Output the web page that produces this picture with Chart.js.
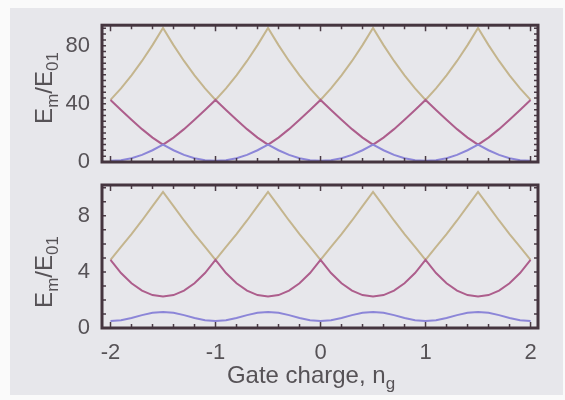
<!DOCTYPE html>
<html><head><meta charset="utf-8">
<script src="https://cdn.jsdelivr.net/npm/chart.js@4"></script>
<style>
html,body{margin:0;padding:0;background:#fafafa;width:565px;height:400px;overflow:hidden;}
#panel{position:absolute;left:10px;top:8px;width:553px;height:387px;background:#e7e7eb;}
canvas{position:absolute;left:0;top:0;}
</style></head><body>
<div id="panel"></div>
<canvas id="topChart" width="565" height="400"></canvas>
<canvas id="botChart" width="565" height="400"></canvas>
<script>
// Gate charge n_g (x values)
const gateCharge = [-2,-1.9,-1.8,-1.7,-1.6,-1.5,-1.4,-1.3,-1.2,-1.1,-1,-0.9,-0.8,-0.7,-0.6,-0.5,-0.4,-0.3,-0.2,-0.1,0,0.1,0.2,0.3,0.4,0.5,0.6,0.7,0.8,0.9,1,1.1,1.2,1.3,1.4,1.5,1.6,1.7,1.8,1.9,2];

// Top panel (charge regime) levels Em/E01
const topLevel0 = [0.8,1.2,2.6,4.9,8.1,11.9,8.1,4.9,2.6,1.2, 0.8,1.2,2.6,4.9,8.1,11.9,8.1,4.9,2.6,1.2, 0.8,1.2,2.6,4.9,8.1,11.9,8.1,4.9,2.6,1.2, 0.8,1.2,2.6,4.9,8.1,11.9,8.1,4.9,2.6,1.2, 0.8];
const topLevel1 = [42.7,35.8,29.1,22.6,16.8,11.9,16.8,22.6,29.1,35.8, 42.7,35.8,29.1,22.6,16.8,11.9,16.8,22.6,29.1,35.8, 42.7,35.8,29.1,22.6,16.8,11.9,16.8,22.6,29.1,35.8, 42.7,35.8,29.1,22.6,16.8,11.9,16.8,22.6,29.1,35.8, 42.7];
const topLevel2 = [42.7,50.6,59.6,69.5,80.4,92.2,80.4,69.5,59.6,50.6, 42.7,50.6,59.6,69.5,80.4,92.2,80.4,69.5,59.6,50.6, 42.7,50.6,59.6,69.5,80.4,92.2,80.4,69.5,59.6,50.6, 42.7,50.6,59.6,69.5,80.4,92.2,80.4,69.5,59.6,50.6, 42.7];

// Bottom panel levels Em/E01
const botLevel0 = [0.50,0.56,0.71,0.92,1.08,1.14,1.08,0.92,0.71,0.56, 0.50,0.56,0.71,0.92,1.08,1.14,1.08,0.92,0.71,0.56, 0.50,0.56,0.71,0.92,1.08,1.14,1.08,0.92,0.71,0.56, 0.50,0.56,0.71,0.92,1.08,1.14,1.08,0.92,0.71,0.56, 0.50];
const botLevel1 = [4.86,3.92,3.19,2.67,2.35,2.25,2.35,2.67,3.19,3.92, 4.86,3.92,3.19,2.67,2.35,2.25,2.35,2.67,3.19,3.92, 4.86,3.92,3.19,2.67,2.35,2.25,2.35,2.67,3.19,3.92, 4.86,3.92,3.19,2.67,2.35,2.25,2.35,2.67,3.19,3.92, 4.86];
const botLevel2 = [4.86,5.78,6.70,7.67,8.69,9.71,8.69,7.67,6.70,5.78, 4.86,5.78,6.70,7.67,8.69,9.71,8.69,7.67,6.70,5.78, 4.86,5.78,6.70,7.67,8.69,9.71,8.69,7.67,6.70,5.78, 4.86,5.78,6.70,7.67,8.69,9.71,8.69,7.67,6.70,5.78, 4.86];

// Tick labels
const xTickValues = [-2,-1,0,1,2];
const topYTickValues = [0,40,80];
const botYTickValues = [0,4,8];

const FONT = "'Liberation Sans', Arial, Helvetica, sans-serif";
const TEXT = '#565256';
const COLORS = ['#8c86d8', '#ad5e8c', '#c4b58e'];

const framePlugin = {
  id: 'frame',
  afterDatasetsDraw(chart, args, o) {
    const {ctx, chartArea: a, scales: {x, y}} = chart;
    ctx.save();
    ctx.strokeStyle = '#4a3b45';
    ctx.lineWidth = 1.5;
    ctx.beginPath();
    for (let i = -11; i <= 11; i++) {
      const v = i * o.xMinor;
      if (v < x.min || v > x.max) continue;
      const px = x.getPixelForValue(v);
      const len = (i % 5 === 0) ? 6 : 4;
      ctx.moveTo(px, a.bottom); ctx.lineTo(px, a.bottom - len);
      ctx.moveTo(px, a.top); ctx.lineTo(px, a.top + len);
    }
    for (let i = 0; i <= 60; i++) {
      const v = i * o.yMinor;
      if (v < y.min || v > y.max) continue;
      const py = y.getPixelForValue(v);
      ctx.moveTo(a.left, py); ctx.lineTo(a.left + 4, py);
      ctx.moveTo(a.right, py); ctx.lineTo(a.right - 4, py);
    }
    ctx.stroke();
    ctx.lineWidth = 3;
    ctx.strokeStyle = '#45353f';
    ctx.strokeRect(a.left, a.top, a.right - a.left, a.bottom - a.top);
    ctx.restore();
  },
  afterDraw(chart, args, o) {
    const ctx = chart.ctx;
    ctx.save();
    ctx.fillStyle = TEXT;
    ctx.textBaseline = 'alphabetic';
    ctx.textAlign = 'left';
    const mainF = '24px ' + FONT, subF = '17px ' + FONT;
    const draw = (parts, sub) => {
      let w = 0;
      parts.forEach(p => { ctx.font = p[1] ? subF : mainF; w += ctx.measureText(p[0]).width; });
      let cx = -w / 2;
      parts.forEach(p => {
        ctx.font = p[1] ? subF : mainF;
        ctx.fillText(p[0], cx, p[1] ? sub : 0);
        cx += ctx.measureText(p[0]).width;
      });
    };
    ctx.save();
    ctx.translate(o.yTitleX, o.yTitleY);
    ctx.rotate(-Math.PI / 2);
    draw([['E', false], ['m', true], ['/E', false], ['01', true]], 6);
    ctx.restore();
    if (o.xTitle) {
      ctx.save();
      ctx.translate(o.xTitleX, o.xTitleY);
      draw([['Gate charge, n', false], ['g', true]], 6);
      ctx.restore();
    }
    ctx.restore();
  }
};

function makeChart(id, levels, yTicks, yMax, padTop, padBottom, showX, frameOpts) {
  const data = {
    datasets: levels.map((arr, k) => ({
      data: gateCharge.map((g, i) => ({x: g, y: arr[i]})),
      borderColor: COLORS[k],
      borderWidth: 2,
      pointRadius: 0,
      tension: 0,
      fill: false
    }))
  };
  return new Chart(document.getElementById(id), {
    type: 'line',
    data,
    plugins: [framePlugin],
    options: {
      responsive: false,
      animation: false,
      devicePixelRatio: 1,
      layout: {padding: {left: 0, right: 27, top: padTop, bottom: padBottom}},
      plugins: {legend: {display: false}, tooltip: {enabled: false}, frame: frameOpts},
      scales: {
        x: {
          type: 'linear',
          min: -2.081, max: 2.071,
          display: showX,
          grid: {display: false, drawTicks: false},
          border: {display: false},
          afterBuildTicks: s => { s.ticks = xTickValues.map(v => ({value: v})); },
          afterFit: s => { s.height = showX ? 40 : 0; },
          ticks: {color: TEXT, padding: 12, font: {family: FONT, size: 22}, maxRotation: 0}
        },
        y: {
          type: 'linear',
          min: 0, max: yMax,
          grid: {display: false, drawTicks: false},
          border: {display: false},
          afterBuildTicks: s => { s.ticks = yTicks.map(v => ({value: v})); },
          afterFit: s => { s.width = 102; },
          ticks: {color: TEXT, padding: 12, font: {family: FONT, size: 22}}
        }
      }
    }
  });
}

makeChart('topChart', [topLevel0, topLevel1, topLevel2], topYTickValues, 94.1, 15, 238, false,
  {xMinor: 0.2, yMinor: 4, yTitleX: 52, yTitleY: 88, xTitle: false});
makeChart('botChart', [botLevel0, botLevel1, botLevel2], botYTickValues, 10.2, 185, 32, true,
  {xMinor: 0.2, yMinor: 1, yTitleX: 52, yTitleY: 272, xTitle: true, xTitleX: 311, xTitleY: 383});
</script>
</body></html>
